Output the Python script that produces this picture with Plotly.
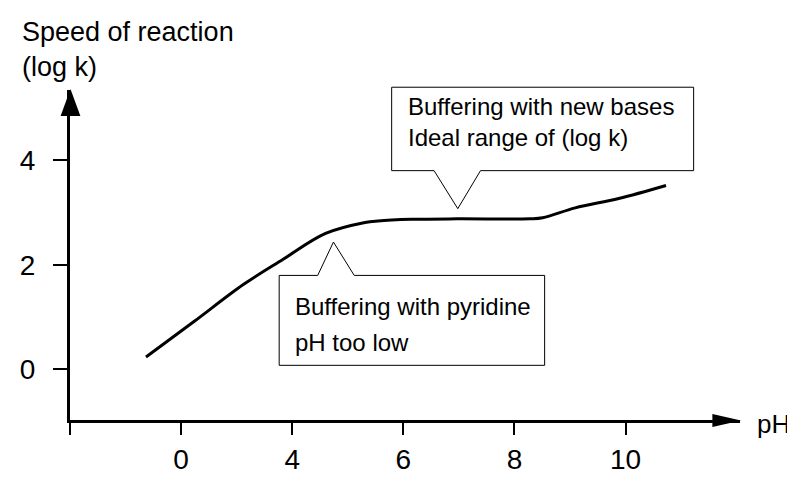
import plotly.graph_objects as go

# reaction speed curve; x is in axis steps (one step between neighbouring ticks)
ph_pos = [0.684, 1.116, 1.560, 1.915, 2.300, 2.655, 2.771, 3.073, 3.481, 4.139, 4.254, 4.547, 4.938, 5.364]
log_k = [0.23, 0.91, 1.62, 2.10, 2.60, 2.81, 2.84, 2.87, 2.88, 2.88, 2.90, 3.09, 3.27, 3.52]

x_tick_pos = [0, 1, 2, 3, 4, 5]
x_tick_text = ["", "0", "4", "6", "8", "10"]
y_tick_vals = [0, 2, 4]
y_tick_text = ["0", "2", "4"]

FONT = "Liberation Sans, Arial, sans-serif"
OFF = 8                                 # page body margin
W, H = 795 - OFF, 495 - 2 * OFF
L, R, T, B = 61, 740, 90, 446           # plot area, screen pixels
X_RANGE = [0, 6.03]
Y_RANGE = [-0.978, 5.351]


def px(x, y):
    """screen pixel -> paper coordinates"""
    return (x - L) / (R - L), (B - y) / (B - T)


def path_paper(points):
    pts = [px(x, y) for x, y in points]
    return "M " + " L ".join(f"{a:.4f},{b:.4f}" for a, b in pts) + " Z"


fig = go.Figure()
fig.add_trace(go.Scatter(
    x=ph_pos, y=log_k, mode="lines",
    line=dict(color="black", width=3, shape="spline", smoothing=1),
    hoverinfo="skip",
))

shapes = []
# axis arrow heads
shapes.append(dict(type="path", xref="paper", yref="paper",
                   path=path_paper([(712, 439.5), (741, 446.5), (712, 453.5)]),
                   fillcolor="black", line=dict(width=0)))
shapes.append(dict(type="path", xref="paper", yref="paper",
                   path=path_paper([(51.5, 118), (61.5, 89), (71.5, 118)]),
                   fillcolor="black", line=dict(width=0)))
# callout boxes
shapes.append(dict(type="path", xref="paper", yref="paper",
                   path=path_paper([(387, 87), (693, 87), (693, 177), (477, 177),
                                    (454, 218), (430, 177), (387, 177)]),
                   fillcolor="white", line=dict(color="black", width=1)))
shapes.append(dict(type="path", xref="paper", yref="paper",
                   path=path_paper([(273, 290), (312, 290), (328, 254), (349, 290),
                                    (542, 290), (542, 387), (273, 387)]),
                   fillcolor="white", line=dict(color="black", width=1)))

annotations = []


def label(text, x, y, size, anchor="left"):
    xp, yp = px(x, y)
    annotations.append(dict(text=text, x=xp, y=yp, xref="paper", yref="paper",
                            xanchor=anchor, yanchor="middle", showarrow=False,
                            font=dict(size=size, color="black", family=FONT)))


label("Speed of reaction", 10, 27, 27)
label("(log k)", 10, 65, 27)
label("pH", 755, 450, 26)
label("Buffering with new bases", 402, 108, 24)
label("Ideal range of (log k)", 402, 141, 24)
label("Buffering with pyridine", 287, 324, 24)
label("pH too low", 287, 362, 24)

fig.update_layout(
    width=W, height=H,
    margin=dict(l=L - OFF, r=W - (R - OFF), t=T - OFF, b=H - (B - OFF)),
    plot_bgcolor="white", paper_bgcolor="white",
    showlegend=False,
    shapes=shapes, annotations=annotations,
    font=dict(family=FONT, color="black", size=27),
)
fig.update_xaxes(
    range=X_RANGE, showgrid=False, zeroline=False,
    showline=True, linecolor="black", linewidth=3,
    tickmode="array", tickvals=x_tick_pos, ticktext=x_tick_text,
    ticks="outside", ticklen=12, tickwidth=1.5, tickcolor="black",
    tickfont=dict(size=28, family=FONT),
)
fig.update_yaxes(
    range=Y_RANGE, showgrid=False, zeroline=False,
    showline=True, linecolor="black", linewidth=3,
    tickmode="array", tickvals=y_tick_vals, ticktext=y_tick_text,
    ticks="outside", ticklen=14, tickwidth=1.5, tickcolor="black",
    tickfont=dict(size=28, family=FONT), ticklabelstandoff=12,
)

fig.write_html("out.html")
